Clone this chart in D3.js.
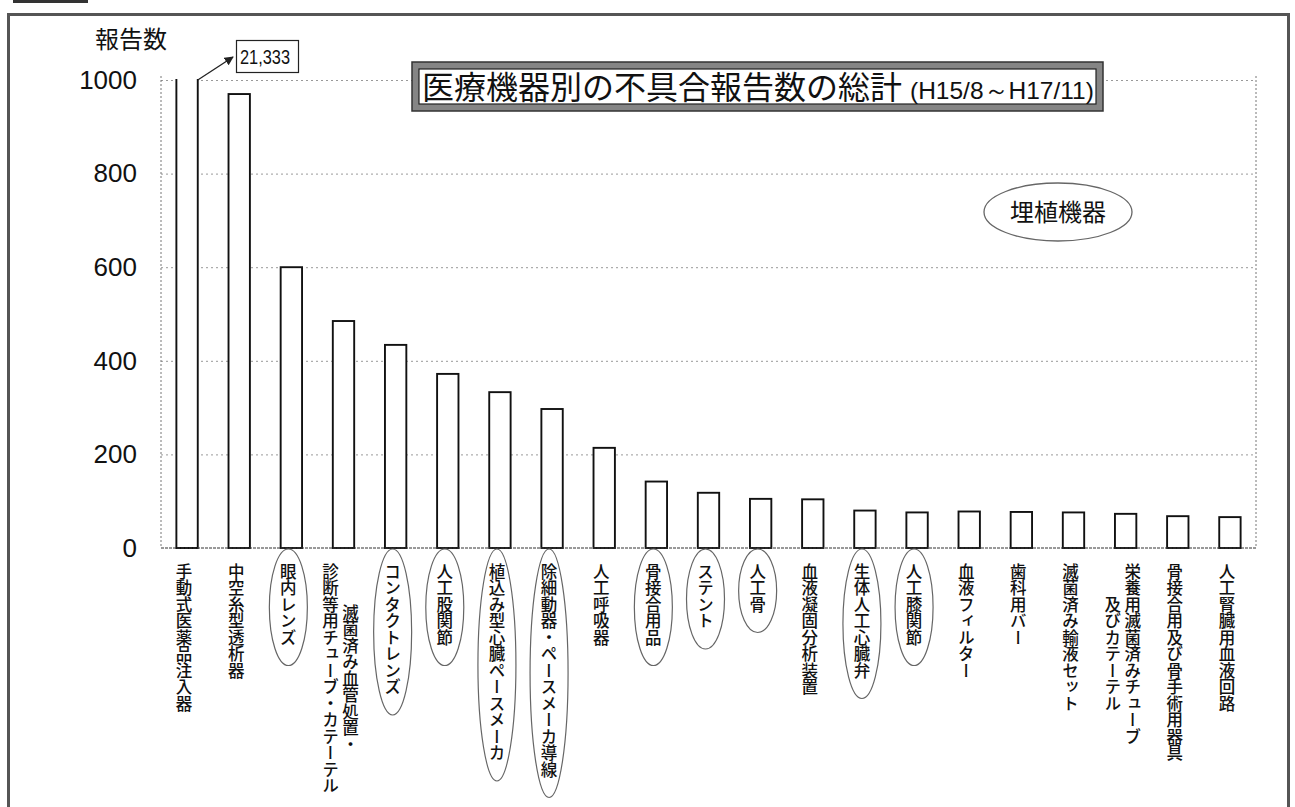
<!DOCTYPE html>
<html>
<head>
<meta charset="utf-8">
<script src="https://cdn.jsdelivr.net/npm/d3@7"></script>
<style>
  body { margin: 0; background: #fff; }
  svg { display: block; }
</style>
</head>
<body>
<svg id="chart" width="1295" height="807"></svg>
<script>
// category labels (one array entry per printed line)
var categoryLines = [
  ['手動式医薬品注入器'],
  ['中空糸型透析器'],
  ['眼内レンズ'],
  ['滅菌済み血管処置・', '診断等用チューブ・カテーテル'],
  ['コンタクトレンズ'],
  ['人工股関節'],
  ['植込み型心臓ペースメーカ'],
  ['除細動器・ペースメーカ導線'],
  ['人工呼吸器'],
  ['骨接合用品'],
  ['ステント'],
  ['人工骨'],
  ['血液凝固分析装置'],
  ['生体人工心臓弁'],
  ['人工膝関節'],
  ['血液フィルター'],
  ['歯科用バー'],
  ['滅菌済み輸液セット'],
  ['栄養用滅菌済みチューブ', '及びカテーテル'],
  ['骨接合用及び骨手術用器具'],
  ['人工腎臓用血液回路']
];
var reportCounts = [21333, 970, 600, 485, 434, 372, 333, 297, 214, 142, 118, 105, 104, 80, 76, 78, 77, 76, 73, 68, 66];
// circled labels = implanted devices
var implanted = [0, 0, 1, 0, 1, 1, 1, 1, 0, 1, 1, 1, 0, 1, 1, 0, 0, 0, 0, 0, 0];
var yTicks = [0, 200, 400, 600, 800, 1000];
var yMax = 1000;
var yTitle = '報告数';
var chartTitle = '医療機器別の不具合報告数の総計';
var chartPeriod = '(H15/8～H17/11)';
var implantNote = '埋植機器';
var brokenLabel = '21,333';

var jp = '"Noto Sans CJK JP", "Noto Sans", sans-serif';
var num = '"Liberation Sans", Arial, sans-serif';

var svg = d3.select('#chart');

var plot = { left: 161, right: 1256, top: 80, bottom: 548 };

var x = d3.scaleBand()
  .domain(d3.range(reportCounts.length))
  .range([plot.left, plot.right])
  .paddingInner(0.59)
  .paddingOuter(0.295);

var y = d3.scaleLinear()
  .domain([0, yMax])
  .range([plot.bottom, plot.top]);

// outer page frame
svg.append('rect')
  .attr('x', 8.5).attr('y', 14.5)
  .attr('width', 1280).attr('height', 800)
  .attr('fill', 'none')
  .attr('stroke', '#555')
  .attr('stroke-width', 3);
svg.append('rect')
  .attr('x', 13).attr('y', 0)
  .attr('width', 75).attr('height', 3)
  .attr('fill', '#333');

// dotted gridlines
var grid = svg.append('g')
  .attr('class', 'grid')
  .attr('transform', 'translate(' + plot.left + ',0)')
  .call(d3.axisLeft(y)
    .tickValues(yTicks.filter(function(d){ return d > 0; }))
    .tickSize(-(plot.right - plot.left))
    .tickFormat(''));
grid.select('.domain').remove();
grid.selectAll('line')
  .attr('stroke', '#999')
  .attr('stroke-dasharray', '2,3');

// plot area sides
svg.append('g')
  .selectAll('line')
  .data([plot.left, plot.right])
  .enter()
  .append('line')
  .attr('x1', function(d){ return d; })
  .attr('x2', function(d){ return d; })
  .attr('y1', plot.top - 4)
  .attr('y2', plot.bottom)
  .attr('stroke', '#777')
  .attr('stroke-dasharray', '2,2');

// y tick labels
var yAxis = svg.append('g')
  .attr('transform', 'translate(' + plot.left + ',0)')
  .call(d3.axisLeft(y).tickValues(yTicks).tickSize(0).tickPadding(24).tickFormat(d3.format('d')));
yAxis.select('.domain').remove();
yAxis.selectAll('text')
  .style('font-family', num)
  .style('font-size', '26px')
  .attr('fill', '#111');

svg.append('text')
  .attr('x', 131).attr('y', 48)
  .attr('text-anchor', 'middle')
  .style('font-family', jp)
  .style('font-size', '24px')
  .attr('fill', '#111')
  .text(yTitle);

// bars
var bw = x.bandwidth();
var bars = svg.append('g').attr('class', 'bars');

bars.selectAll('rect')
  .data(reportCounts)
  .enter()
  .append('rect')
  .attr('x', function(d, i){ return x(i); })
  .attr('y', function(d){ return y(Math.min(d, yMax)); })
  .attr('width', bw)
  .attr('height', function(d){ return plot.bottom - y(Math.min(d, yMax)); })
  .attr('fill', '#fff')
  .attr('stroke', function(d){ return d > yMax ? 'none' : '#111'; })
  .attr('stroke-width', 1.9);

// broken bar: sides and bottom only
bars.selectAll('path')
  .data(reportCounts.filter(function(d){ return d > yMax; }))
  .enter()
  .append('path')
  .attr('d', function(d) {
    var i = reportCounts.indexOf(d);
    var x0 = x(i), x1 = x(i) + bw;
    return 'M' + x0 + ',' + (y(yMax) - 1) + 'L' + x0 + ',' + plot.bottom +
      'L' + x1 + ',' + plot.bottom + 'L' + x1 + ',' + (y(yMax) - 1);
  })
  .attr('fill', 'none')
  .attr('stroke', '#111')
  .attr('stroke-width', 1.9);

// baseline
svg.append('line')
  .attr('x1', plot.left).attr('x2', plot.right)
  .attr('y1', plot.bottom).attr('y2', plot.bottom)
  .attr('stroke', '#333')
  .attr('stroke-dasharray', '3,1');

// value box for the broken bar
var defs = svg.append('defs');
defs.append('marker')
  .attr('id', 'arrow')
  .attr('viewBox', '0 0 10 10')
  .attr('refX', 9).attr('refY', 5)
  .attr('markerWidth', 7).attr('markerHeight', 7)
  .attr('orient', 'auto')
  .append('path')
  .attr('d', 'M0,0L10,5L0,10Z')
  .attr('fill', '#222');

var bx = x(0) + bw;
svg.append('line')
  .attr('x1', bx).attr('y1', y(yMax))
  .attr('x2', 233).attr('y2', 57)
  .attr('stroke', '#222')
  .attr('stroke-width', 1.3)
  .attr('marker-end', 'url(#arrow)');
svg.append('rect')
  .attr('x', 236.5).attr('y', 40.5)
  .attr('width', 62).attr('height', 32)
  .attr('fill', '#fff')
  .attr('stroke', '#222')
  .attr('stroke-width', 1.2);
svg.append('text')
  .attr('x', 240).attr('y', 64)
  .attr('textLength', 50)
  .attr('lengthAdjust', 'spacingAndGlyphs')
  .style('font-family', num)
  .style('font-size', '21px')
  .attr('fill', '#111')
  .text(brokenLabel);

// title box
var tb = { x: 412, y: 62, w: 691, h: 49 };
svg.append('rect')
  .attr('x', tb.x).attr('y', tb.y)
  .attr('width', tb.w).attr('height', tb.h)
  .attr('fill', '#858585')
  .attr('stroke', '#333')
  .attr('stroke-width', 1.5);
svg.append('rect')
  .attr('x', tb.x + 7).attr('y', tb.y + 7)
  .attr('width', tb.w - 14).attr('height', tb.h - 14)
  .attr('fill', '#fff')
  .attr('stroke', '#222')
  .attr('stroke-width', 1.2);
var title = svg.append('text')
  .attr('x', tb.x + 10).attr('y', tb.y + 37)
  .style('font-family', jp)
  .attr('fill', '#111');
title.append('tspan')
  .style('font-size', '32px')
  .text(chartTitle);
title.append('tspan')
  .attr('dx', 8)
  .style('font-family', num)
  .style('font-size', '24.5px')
  .text(chartPeriod);

// implanted note
svg.append('ellipse')
  .attr('cx', 1058).attr('cy', 212)
  .attr('rx', 74).attr('ry', 29)
  .attr('fill', 'none')
  .attr('stroke', '#666')
  .attr('stroke-width', 1.3);
svg.append('text')
  .attr('x', 1058).attr('y', 221)
  .attr('text-anchor', 'middle')
  .style('font-family', jp)
  .style('font-size', '24px')
  .attr('fill', '#111')
  .text(implantNote);

// vertical category labels
var fs = 16.5;
var labelTop = 563;
var lineGap = 20;

var labels = svg.append('g')
  .attr('class', 'x_labels')
  .selectAll('g')
  .data(categoryLines)
  .enter()
  .append('g')
  .attr('transform', function(d, i){ return 'translate(' + (x(i) + bw / 2 - 3) + ',0)'; });

labels.each(function(lines, i) {
  var g = d3.select(this);
  var maxLen = d3.max(lines, function(s){ return s.length; });
  if (implanted[i]) {
    var top = plot.bottom + 1;
    var bottom = labelTop + maxLen * fs + 20;
    g.append('ellipse')
      .attr('cx', 0)
      .attr('cy', (top + bottom) / 2)
      .attr('rx', 19)
      .attr('ry', (bottom - top) / 2)
      .attr('fill', 'none')
      .attr('stroke', '#666')
      .attr('stroke-width', 1.2);
  }
  g.selectAll('text')
    .data(lines)
    .enter()
    .append('text')
    .attr('x', function(s, k){ return ((lines.length - 1) / 2 - k) * lineGap; })
    .attr('y', labelTop + maxLen * fs / 2)
    .attr('text-anchor', 'middle')
    .style('writing-mode', 'vertical-rl')
    .style('font-family', jp)
    .style('font-size', fs + 'px')
    .style('font-weight', 500)
    .attr('fill', '#111')
    .text(function(s){ return s; });
});
</script>
</body>
</html>
